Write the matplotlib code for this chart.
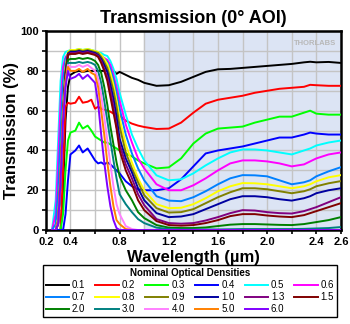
import matplotlib
matplotlib.use("Agg")
import matplotlib.pyplot as plt

plt.rcParams['font.family'] = ['Liberation Sans', 'DejaVu Sans']

wl = [0.25, 0.28, 0.30, 0.32, 0.34, 0.36, 0.38, 0.40, 0.44, 0.47, 0.50, 0.54, 0.57,
      0.60, 0.625, 0.65, 0.675, 0.70, 0.725, 0.75, 0.775, 0.80, 0.85, 0.90, 0.95, 1.00,
      1.10, 1.20, 1.30, 1.40, 1.50, 1.60, 1.70, 1.80, 1.90, 2.00, 2.10, 2.20, 2.30, 2.35,
      2.40, 2.50, 2.60]

od_labels = ['0.1', '0.2', '0.3', '0.4', '0.5', '0.6', '0.7', '0.8', '0.9', '1.0',
             '1.3', '1.5', '2.0', '3.0', '4.0', '5.0', '6.0']
colors = ['#000000', '#ff0000', '#00ff00', '#0000ff', '#00ffff', '#ff00ff', '#0080ff',
          '#ffff00', '#808000', '#0000a0', '#800080', '#800000', '#008000', '#008080',
          '#ff80ff', '#ff8000', '#8000ff']

t_01 = [0, 0, 0, 0, 20, 55, 72, 78, 79.5, 80, 79.5, 80, 80,
        80, 80, 80, 80, 80, 80, 80, 78.5, 79.5, 78, 76.5, 75.5, 74,
        72.5, 72.8, 74.5, 77, 79.5, 80.8, 81, 81.5, 82, 82.5, 83, 83.5, 84.3, 84.6,
        84.3, 84.5, 84]
t_02 = [0, 0, 0, 0, 30, 62, 64, 63.5, 64, 67, 64, 64.5, 65.5,
        61, 62, 61, 60.5, 60, 59.5, 58.5, 58, 57.5, 55, 53.5, 52.5, 51.8,
        50.8, 51, 54, 59, 63.5, 65.5, 66.5, 67.5, 69, 70, 71, 71.5, 72, 73,
        72.8, 72.5, 72.5]
t_03 = [0, 0, 0, 0, 8, 30, 45, 49, 50, 54, 51, 52.5, 50,
        47, 46, 45, 44, 44, 43, 42, 41, 40, 38.5, 37, 35, 33.5,
        31, 31.5, 36, 43.5, 48.5, 51, 51.5, 52, 54, 55.5, 57, 57, 59, 60,
        58.5, 58, 58]
t_04 = [0, 0, 0, 0, 0, 8, 25, 38, 40, 42.5, 39, 41, 38,
        35, 33.5, 34, 33, 34, 33, 31.5, 30, 28.5, 24.5, 22, 20.5, 20,
        20, 21, 25.5, 32, 38.5, 40, 41, 42, 43.5, 45, 46.5, 46.5, 48, 49,
        48.5, 48, 48]
t_05 = [0, 15, 45, 75, 87, 89.5, 90, 90.5, 90.5, 91, 90.5, 91, 90.5,
        90, 89.5, 89, 88, 87.5, 85, 81, 76, 69, 58, 48, 41, 35,
        27.5, 25, 25.5, 28.5, 32.5, 36, 39, 40.5, 40.5, 40, 39, 38, 40, 41,
        42.5, 44, 45]
t_06 = [0, 8, 35, 65, 82, 87, 88.5, 89, 89, 89.5, 89, 89.5, 89,
        88.5, 88, 87.5, 86.5, 85.5, 83, 78, 72, 65, 53, 44, 36, 31,
        23, 20, 20, 22.5, 26, 30, 33.5, 35, 35, 34.5, 33.5, 32, 33, 34.5,
        36, 38, 39]
t_07 = [0, 3, 20, 50, 75, 86, 88.5, 89, 89, 89.5, 89, 89.5, 89,
        89, 88.5, 87.5, 86, 84.5, 81, 76, 69, 61, 48, 38.5, 31, 25,
        17, 14.8, 14.5, 16.5, 19.5, 23, 26, 27.6, 27.5, 27, 25, 23, 24, 25,
        27, 29.5, 31.6]
t_08 = [0, 0, 6, 30, 62, 82, 89.5, 90.5, 90.5, 91, 90.5, 91, 90.5,
        90, 89.5, 88, 86, 83.5, 79, 73, 65, 56, 43, 34, 26, 20,
        13, 11, 11.2, 13, 16, 19.5, 22, 23.6, 23.5, 23, 22, 21, 22, 23,
        24.5, 26.5, 27.6]
t_09 = [0, 0, 5, 28, 60, 80, 89, 90, 90, 90.5, 90, 90.5, 90,
        89.5, 89, 87, 84.5, 81.5, 76, 70, 62, 52, 39, 31, 24, 17.5,
        11, 8.8, 9, 10.5, 13.5, 16.5, 19, 21, 21, 20.5, 19.5, 18.5, 19.5, 20.5,
        22, 23.5, 24.6]
t_10 = [0, 0, 4, 26, 58, 79, 88.5, 89.5, 89.5, 90, 89.5, 90, 89.5,
        89, 88, 86, 83, 79.5, 73, 66, 57, 46, 36, 29, 21, 15,
        8.5, 6.5, 6.8, 8, 10.5, 13, 15.5, 17, 17, 16.5, 15.5, 14.8, 16, 17,
        18.5, 20, 21]
t_13 = [0, 0, 4, 27, 58, 79, 88, 89, 89, 89.5, 89, 89.5, 89,
        88.5, 87.5, 85, 81, 77, 70, 62, 52, 43, 33, 26, 18, 12.5,
        5.5, 3.5, 3.2, 3.5, 4.8, 6.5, 8.5, 10, 9.8, 9, 8.5, 8.3, 9.5, 10.5,
        11.5, 14, 16.5]
t_15 = [0, 0, 3, 25, 56, 78, 88, 88.5, 88.5, 89, 88.5, 89, 88.5,
        88, 87, 84, 80, 75, 67, 59, 51, 40, 30, 23, 15, 10,
        4.5, 2.5, 2.2, 2.5, 3.5, 5, 7, 8, 8, 7.3, 6.8, 6.5, 7.5, 8.5,
        9.5, 11.5, 13.5]
t_20 = [0, 0, 3, 25, 55, 76, 85.5, 86, 86, 86.5, 86, 86.5, 86,
        85, 83, 79, 72, 63, 52, 43, 34, 27, 20, 15, 9, 6,
        2.5, 1.2, 1, 1, 1.3, 2, 2.7, 3, 3, 2.8, 2.6, 2.5, 3, 3.5,
        4, 5, 6.5]
t_30 = [0, 0, 3, 24, 54, 74, 84, 84, 84, 84.5, 84, 84.5, 84,
        83, 80, 74, 65, 55, 45, 35, 26, 18, 13, 9, 5.5, 3.5,
        1.2, 0.5, 0.3, 0.3, 0.3, 0.3, 0.4, 0.5, 0.5, 0.5, 0.5, 0.5, 0.6, 0.7,
        0.8, 1, 1.5]
t_40 = [0, 0, 4, 26, 56, 74, 83, 82, 82, 83, 82, 83, 81.5,
        80, 76, 68, 57, 45, 33, 22, 13, 8, 2, 0.5, 0, 0,
        0, 0, 0, 0, 0, 0, 0, 0, 0, 0, 0, 0, 0, 0,
        0, 0, 0]
t_50 = [0, 0, 4, 28, 58, 75, 82, 80, 80, 81, 79.5, 81, 79,
        78, 72, 60, 48, 34, 22, 12, 5, 3, 0.5, 0, 0, 0,
        0, 0, 0, 0, 0, 0, 0, 0, 0, 0, 0, 0, 0, 0,
        0, 0, 0]
t_60 = [0, 0, 3, 25, 55, 72, 80, 76, 77, 78.5, 76, 78, 76,
        74, 64, 48, 34, 22, 12, 5, 1, 0, 0, 0, 0, 0,
        0, 0, 0, 0, 0, 0, 0, 0, 0, 0, 0, 0, 0, 0,
        0, 0, 0]

series = [t_01, t_02, t_03, t_04, t_05, t_06, t_07, t_08, t_09, t_10,
          t_13, t_15, t_20, t_30, t_40, t_50, t_60]

fig = plt.figure(figsize=(3.5, 3.24), dpi=100)
ax = fig.add_axes([0.131, 0.290, 0.843, 0.614])

ax.axvspan(1.0, 2.6, color='#dce4f4', zorder=0)
ax.set_xlim(0.2, 2.6)
ax.set_ylim(0, 100)
ax.set_xticks([0.2, 0.4, 0.8, 1.2, 1.6, 2.0, 2.4, 2.6])
ax.set_xticklabels(['0.2', '0.4', '0.8', '1.2', '1.6', '2.0', '2.4', '2.6'])
ax.set_xticks([0.6, 1.0, 1.4, 1.8, 2.2], minor=True)
ax.set_yticks([0, 20, 40, 60, 80, 100])
ax.set_yticks([10, 30, 50, 70, 90], minor=True)
ax.grid(True, which='both', color='#c4c4c4', lw=1, zorder=1)
ax.tick_params(which='both', direction='out', length=3, width=1.2, pad=2)
for lab in ax.get_xticklabels() + ax.get_yticklabels():
    lab.set_fontweight('bold')
    lab.set_fontsize(8)
for sp in ax.spines.values():
    sp.set_linewidth(1.8)

handles = []
for y, c, lab in zip(series, colors, od_labels):
    h, = ax.plot(wl, y, color=c, lw=1.4, label=lab, zorder=3)
    handles.append(h)

ax.text(0.985, 0.955, 'THORLABS', transform=ax.transAxes, ha='right', va='top',
        fontsize=5.5, fontweight='bold', color='#b8b8b8')

ax.set_title('Transmission (0° AOI)', fontsize=13, fontweight='bold', pad=6)
ax.set_xlabel('Wavelength (µm)', fontsize=12, fontweight='bold', labelpad=2)
ax.set_ylabel('Transmission (%)', fontsize=12, fontweight='bold', labelpad=1)

# legend reads row by row, matplotlib fills column by column
order = [i * 6 + j for j in range(6) for i in range(3) if i * 6 + j < len(handles)]
leg = fig.legend([handles[k] for k in order], [od_labels[k] for k in order],
                 ncol=6, loc='lower left', mode='expand',
                 bbox_to_anchor=(38 / 350, 2 / 324, 304 / 350, 52 / 324),
                 title='Nominal Optical Densities', fontsize=7,
                 title_fontproperties={'weight': 'bold', 'size': 7},
                 handlelength=2.4, handletextpad=0.3, labelspacing=0.2,
                 borderpad=0.3, fancybox=False, edgecolor='black', framealpha=1)
leg.get_frame().set_linewidth(1.0)

fig.savefig('out.png', dpi=100)
